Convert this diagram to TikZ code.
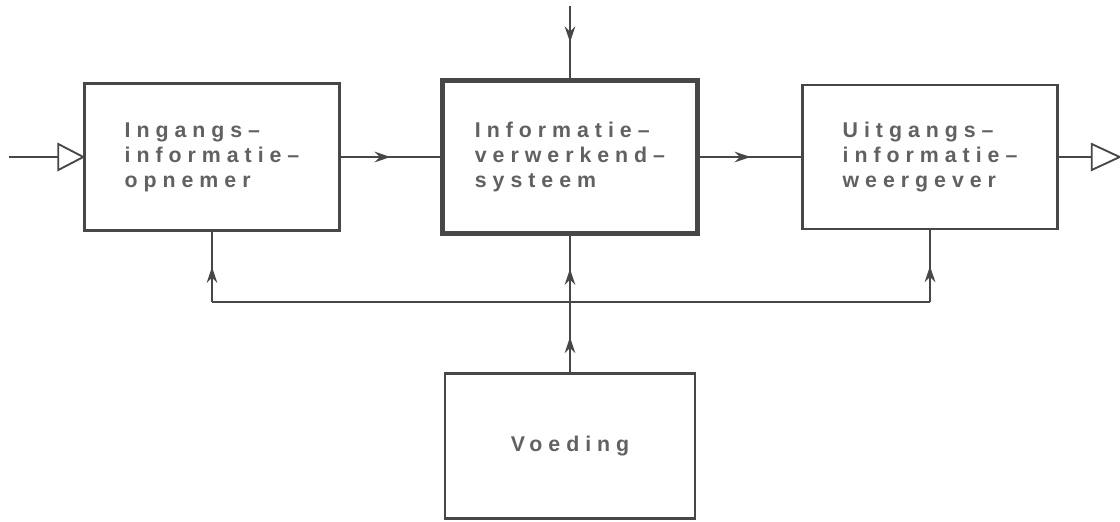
\documentclass[tikz,border=0pt]{standalone}
\usepackage{fontspec}
\usepackage{tikz}
\usetikzlibrary{arrows.meta,decorations.markings}

\newfontfamily\lblfont[LetterSpace=28]{Liberation Sans}
\newcommand{\pxu}{0.75pt}

\begin{document}
\begin{tikzpicture}[
  x=0.75pt, y=-0.75pt,
  font=\lblfont\bfseries\fontsize{16}{18.75}\selectfont,
  box/.style  = {draw=black!72, line width=1.8pt, align=left, text=black!62,
                 inner sep=0pt, minimum width=255*\pxu},
  main/.style = {box, line width=3.4pt},
  ln/.style   = {draw=black!72, line width=1.4pt},
  mid/.style  = {ln, postaction={decorate},
                 decoration={markings, mark=at position 0.5 with
                   {\arrow{Stealth[length=12pt,width=8pt,inset=4pt]}}}},
  tri/.style  = {ln, fill=white, line join=miter},
]
\useasboundingbox (0,0) rectangle (1120,521);

% ---- blocks ----------------------------------------------------------------
\node[box,  minimum height=147*\pxu] (inp)  at (212,157) {Ingangs\textendash\\informatie\textendash\\opnemer};
\node[main, minimum height=153*\pxu] (cpu)  at (570,157) {Informatie\textendash\\verwerkend\textendash\\systeem};
\node[box,  minimum height=144*\pxu] (outp) at (930,157) {Uitgangs\textendash\\informatie\textendash\\weergever};
\node[box,  minimum height=145*\pxu, minimum width=250*\pxu] (vd) at (570,446) {Voeding};

% ---- signal path -----------------------------------------------------------
\coordinate (inStart) at ([shift={(-74,0)}]inp.west);
\coordinate (inTri)   at ([shift={(-25,0)}]inp.west);
\draw[ln]  (inStart) -- (inTri);
\draw[tri] (inp.west) -- ++(-25,-13) -- ++(0,26) -- cycle;

\draw[mid] (inp.east) -- (cpu.west);
\draw[mid] (cpu.east) -- (outp.west);

\coordinate (outTri) at ([shift={(33,0)}]outp.east);
\draw[ln]  (outp.east) -- (outTri);
\draw[tri] (outTri) -- ++(0,-13) -- ++(28,13) -- ++(-28,13) -- cycle;

\coordinate (topIn) at ([shift={(0,-72)}]cpu.north);
\draw[mid] (topIn) -- (cpu.north);

% ---- supply bus ------------------------------------------------------------
\coordinate (busy) at (0,302);
\draw[ln]  (inp.south |- busy) -- (outp.south |- busy);
\draw[mid] (inp.south |- busy) -- (inp.south);
\draw[mid] (outp.south |- busy) -- (outp.south);
\draw[mid] (vd.north) -- (cpu.south |- busy);
\draw[mid] (cpu.south |- busy) -- (cpu.south);

\end{tikzpicture}
\end{document}
